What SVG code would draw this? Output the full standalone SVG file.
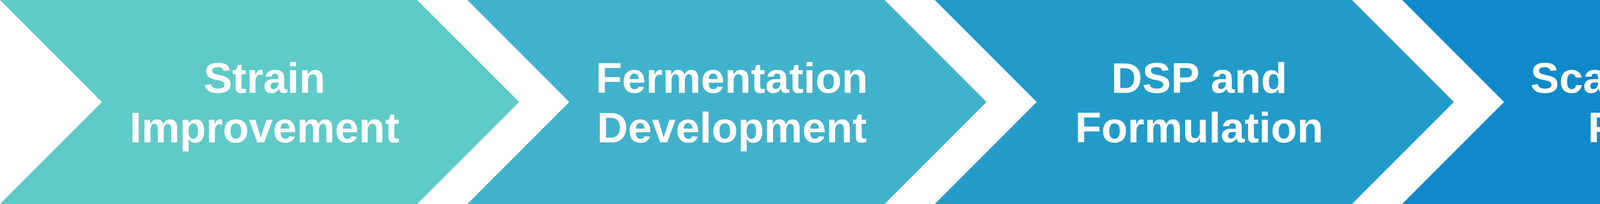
<svg xmlns="http://www.w3.org/2000/svg" width="6116" height="523" viewBox="0 0 6116 523">
<style>
.lbl{font-family:"Liberation Sans",Arial,sans-serif;font-weight:bold;font-size:110px;fill:#FFFFFF;text-anchor:middle}
</style>
<defs>
<polygon id="chev" points="0,0 1068,0 1329,261.5 1068,523 0,523 261,261.5"/>
</defs>
<rect width="6116" height="523" fill="#FFFFFF"/>
<g id="node1">
<use href="#chev" x="0" fill="#5ECBC8"/>
<text class="lbl"><tspan x="677" y="238">Strain</tspan><tspan x="677" y="365">Improvement</tspan></text>
</g>
<g id="node2">
<use href="#chev" x="1196.5" fill="#41B2CB"/>
<text class="lbl"><tspan x="1873.5" y="238">Fermentation</tspan><tspan x="1873.5" y="365">Development</tspan></text>
</g>
<g id="node3">
<use href="#chev" x="2393" fill="#239BC9"/>
<text class="lbl"><tspan x="3070" y="238">DSP and</tspan><tspan x="3070" y="365">Formulation</tspan></text>
</g>
<g id="node4">
<use href="#chev" x="3589.5" fill="#0F89C9"/>
<text class="lbl"><tspan x="4266.5" y="238">Scale-Up and</tspan><tspan x="4266.5" y="365">Piloting</tspan></text>
</g>
<g id="node5">
<use href="#chev" x="4786" fill="#0F89C9"/>
<text class="lbl"><tspan x="5463" y="174">Manufacturing</tspan><tspan x="5463" y="301">and</tspan><tspan x="5463" y="427">Regulatory</tspan></text>
</g>
<g id="connectors"></g>
</svg>
